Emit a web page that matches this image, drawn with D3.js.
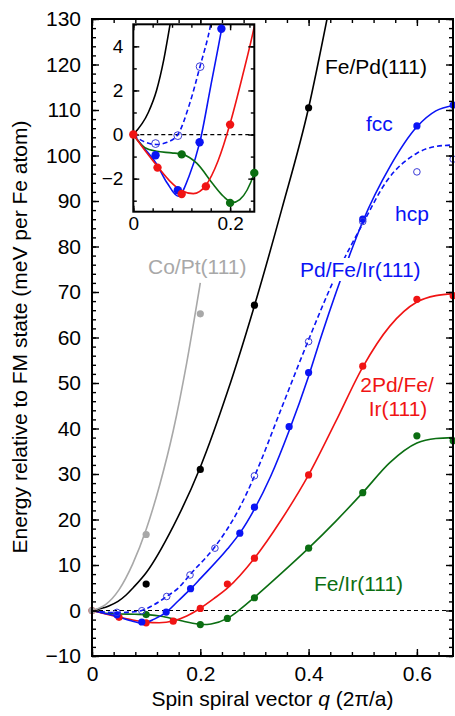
<!DOCTYPE html>
<html lang="en">
<head>
<meta charset="utf-8">
<title>Spin spiral energies</title>
<script src="https://d3js.org/d3.v7.min.js"></script>
<style>
  body { margin: 0; background: #fff; }
  svg text { font-family: "Liberation Sans", Arial, Helvetica, sans-serif; }
</style>
</head>
<body>
<div id="mainDiv"></div>
<script>
const width = 455
const height = 716

// fitted curves, [q, E]
const coPtCurve = [[0,0],[0.025,1.3],[0.05,4.6],[0.075,10.2],[0.1,17.8],[0.125,27.6],[0.15,39.5],[0.175,54.5],[0.2,72]]
const fePdCurve = [[0,0],[0.031,1],[0.048,2],[0.063,3.4],[0.076,5],[0.1,8.3],[0.15,18.5],[0.2,31.5],[0.25,48],[0.3,67],[0.35,88],[0.4,110.5],[0.434,130]]
const fccCurve = [[0,0],[0.02,-0.55],[0.047,-1.3],[0.07,-2.2],[0.093,-2.8],[0.115,-1.9],[0.138,-0.3],[0.16,2.2],[0.183,4.85],[0.2,7],[0.25,13.5],[0.273,17],[0.3,22.3],[0.33,29.5],[0.364,39.5],[0.4,51.5],[0.424,60.5],[0.451,70],[0.477,78.5],[0.5,85.5],[0.55,97.5],[0.6,106.3],[0.635,109.8],[0.667,111]]
const hcpCurve = [[0,0],[0.02,-0.3],[0.047,-0.45],[0.07,-0.35],[0.092,0],[0.115,1.3],[0.138,3.1],[0.16,5],[0.181,7.9],[0.227,14],[0.27,22],[0.3,29.5],[0.35,44.5],[0.4,59.5],[0.45,73.5],[0.5,85],[0.545,94.5],[0.6,100.5],[0.635,102],[0.667,102.3]]
const pd2Curve = [[0,0],[0.025,-0.75],[0.05,-1.45],[0.075,-2.1],[0.1,-2.55],[0.124,-2.68],[0.15,-2.3],[0.175,-1.2],[0.2,0.5],[0.225,2.6],[0.25,4.9],[0.3,11.5],[0.35,20],[0.4,29.8],[0.45,41.5],[0.5,53.5],[0.55,62.5],[0.6,67.8],[0.635,69.2],[0.667,69.6]]
const feIrCurve = [[0,0],[0.024,-0.6],[0.048,-0.76],[0.079,-0.83],[0.102,-0.9],[0.131,-1.3],[0.165,-2.26],[0.186,-2.8],[0.205,-3.08],[0.22,-2.95],[0.25,-1.74],[0.275,0.4],[0.3,2.9],[0.35,8.2],[0.4,13.7],[0.45,19.6],[0.5,25.9],[0.55,32.5],[0.6,36.8],[0.635,37.8],[0.667,38]]

// computed energies
const coPtPoints = [[0,0],[0.1,16.7],[0.2,65.2]]
const fePdPoints = [[0.1,5.8],[0.2,31],[0.3,67.1],[0.4,110.5]]
const fccPoints = [[0.046,-0.94],[0.092,-2.53],[0.137,-0.35],[0.182,4.8],[0.273,17],[0.3,22.7],[0.364,40.4],[0.4,52.3],[0.5,86],[0.6,106.5],[0.667,111.1]]
const hcpPoints = [[0.046,-0.41],[0.092,-0.05],[0.138,3.08],[0.181,7.8],[0.227,13.7],[0.3,29.6],[0.4,59.1],[0.5,85.5],[0.6,96.4],[0.667,99.2]]
const pd2Points = [[0,0],[0.05,-1.5],[0.1,-2.7],[0.15,-2.35],[0.2,0.45],[0.25,5.8],[0.3,11.5],[0.4,29.8],[0.5,53.7],[0.6,68.4],[0.667,69.2]]
const feIrPoints = [[0.1,-0.9],[0.2,-3.1],[0.25,-1.74],[0.3,2.8],[0.4,13.7],[0.5,25.9],[0.6,38.4],[0.667,37.3]]

const xTicksMain = [0, 0.2, 0.4, 0.6]
const yTicksMain = [-10, 0, 10, 20, 30, 40, 50, 60, 70, 80, 90, 100, 110, 120, 130]
const xTicksInset = [0, 0.2]
const yTicksInset = [-2, 0, 2, 4]

const blue = '#0a14f5', red = '#f01414', green = '#0b6e12', gray = '#a8a8a8'

const series = {
  feIr: { curve: feIrCurve, points: feIrPoints, color: green },
  pd2: { curve: pd2Curve, points: pd2Points, color: red },
  fcc: { curve: fccCurve, points: fccPoints, color: blue },
  hcp: { curve: hcpCurve, points: hcpPoints, color: blue, dashed: true, hollow: true },
  fePd: { curve: fePdCurve, points: fePdPoints, color: '#000' },
  coPt: { curve: coPtCurve, points: coPtPoints, color: gray }
}

const svg = d3.select('#mainDiv').append('svg')
  .attr('width', width)
  .attr('height', height)

const defs = svg.append('defs')

function addClip(id, x0, y0, x1, y1) {
  defs.append('clipPath').attr('id', id)
    .append('rect').attr('x', x0).attr('y', y0).attr('width', x1 - x0).attr('height', y1 - y0)
}

// ticks pointing inward on all four sides
function frameTicks(g, xs, ys, o) {
  const [x0, x1] = xs.range()
  const [y0, y1] = ys.range() // y0 bottom
  const noDomain = sel => sel.select('.domain').remove()
  g.append('g').attr('transform', `translate(0,${y0})`)
    .call(d3.axisBottom(xs).tickValues(o.xMinor).tickSize(-o.minor).tickFormat('')).call(noDomain)
  g.append('g').attr('transform', `translate(0,${y1})`)
    .call(d3.axisTop(xs).tickValues(o.xMinor).tickSize(-o.minor).tickFormat('')).call(noDomain)
  g.append('g').attr('transform', `translate(${x0},0)`)
    .call(d3.axisLeft(ys).tickValues(o.yMinor).tickSize(-o.minor).tickFormat('')).call(noDomain)
  g.append('g').attr('transform', `translate(${x1},0)`)
    .call(d3.axisRight(ys).tickValues(o.yMinor).tickSize(-o.minor).tickFormat('')).call(noDomain)

  g.append('g').attr('transform', `translate(0,${y0})`)
    .call(d3.axisBottom(xs).tickValues(o.xMajor).tickSize(-o.major).tickPadding(o.padX).tickFormat(d3.format('')))
    .call(noDomain)
  g.append('g').attr('transform', `translate(0,${y1})`)
    .call(d3.axisTop(xs).tickValues(o.xMajor).tickSize(-o.major).tickFormat('')).call(noDomain)
  g.append('g').attr('transform', `translate(${x0},0)`)
    .call(d3.axisLeft(ys).tickValues(o.yMajor).tickSize(-o.major).tickPadding(o.padY).tickFormat(d3.format('d')))
    .call(noDomain)
  g.append('g').attr('transform', `translate(${x1},0)`)
    .call(d3.axisRight(ys).tickValues(o.yMajor).tickSize(-o.major).tickFormat('')).call(noDomain)

  g.selectAll('.tick line').attr('stroke', '#000').attr('stroke-width', 1.4)
  g.selectAll('.tick text').attr('fill', '#000').style('font-size', o.font + 'px')
    .style('font-family', '"Liberation Sans", Arial, sans-serif')

  g.append('rect')
    .attr('x', x0).attr('y', y1).attr('width', x1 - x0).attr('height', y0 - y1)
    .attr('fill', 'none').attr('stroke', '#000').attr('stroke-width', 2)
}

function drawSeries(g, xs, ys, keys, clipId) {
  const line = d3.line().x(d => xs(d[0])).y(d => ys(d[1])).curve(d3.curveMonotoneX)
  const zero = ys(0)
  g.append('line')
    .attr('x1', xs.range()[0]).attr('x2', xs.range()[1])
    .attr('y1', zero).attr('y2', zero)
    .attr('stroke', '#000').attr('stroke-width', 1.2).attr('stroke-dasharray', '4,3')
  const curves = g.append('g').attr('clip-path', `url(#${clipId})`)
  keys.forEach(k => {
    const s = series[k]
    curves.append('path')
      .attr('d', line(s.curve))
      .attr('fill', 'none')
      .attr('stroke', s.color)
      .attr('stroke-width', 1.6)
      .attr('stroke-dasharray', s.dashed ? '5,3' : null)
  })
}

// only the points that fall inside the panel's domain are drawn
function drawPoints(g, xs, ys, keys, r) {
  const [qa, qb] = xs.domain()
  const [ea, eb] = ys.domain()
  keys.forEach(k => {
    const s = series[k]
    const pts = s.points.filter(d => d[0] >= qa && d[0] <= qb + 0.005 && d[1] >= ea - 0.5 && d[1] <= eb + 0.5)
    g.append('g').selectAll('circle')
      .data(pts)
      .enter()
      .append('circle')
      .attr('cx', d => xs(d[0]))
      .attr('cy', d => ys(d[1]))
      .attr('r', s.hollow ? r - 0.3 : r)
      .attr('fill', s.hollow ? 'none' : s.color)
      .attr('stroke', s.hollow ? '#3a3ad8' : 'none')
      .attr('stroke-width', 1)
  })
}

// main panel
const x = d3.scaleLinear().domain([0, 2 / 3]).range([92, 453])
const y = d3.scaleLinear().domain([-10, 130]).range([656, 19])
addClip('clipMain', 92, 19, 453, 656)

const mainG = svg.append('g')
const mainKeys = ['feIr', 'pd2', 'fcc', 'hcp', 'fePd', 'coPt']
drawSeries(mainG, x, y, mainKeys, 'clipMain')

// labels on the curves
const labelG = svg.append('g').style('font-size', '21px')
const pdLabel = labelG.append('text').attr('x', 300).attr('y', 277).attr('fill', blue).text('Pd/Fe/Ir(111)')
const bb = pdLabel.node().getBBox()
labelG.insert('rect', 'text')
  .attr('x', bb.x - 2).attr('y', bb.y).attr('width', bb.width + 4).attr('height', bb.height)
  .attr('fill', '#fff')
labelG.append('text').attr('x', 325).attr('y', 74).attr('fill', '#000').text('Fe/Pd(111)')
labelG.append('text').attr('x', 366).attr('y', 131).attr('fill', blue).text('fcc')
labelG.append('text').attr('x', 395).attr('y', 221).attr('fill', blue).text('hcp')
labelG.append('text').attr('x', 397).attr('y', 392).attr('text-anchor', 'middle').attr('fill', red).text('2Pd/Fe/')
labelG.append('text').attr('x', 398).attr('y', 416).attr('text-anchor', 'middle').attr('fill', red).text('Ir(111)')
labelG.append('text').attr('x', 314).attr('y', 591).attr('fill', green).text('Fe/Ir(111)')
labelG.append('text').attr('x', 148).attr('y', 274).attr('fill', gray).text('Co/Pt(111)')

drawPoints(svg.append('g'), x, y, mainKeys, 3.6)

frameTicks(svg.append('g'), x, y, {
  xMajor: xTicksMain,
  xMinor: d3.range(0, 17).map(i => i * 0.04),
  yMajor: yTicksMain,
  yMinor: d3.range(-10, 131, 2),
  major: 7, minor: 4, padX: 10, padY: 11, font: 21
})

// axis titles
svg.append('text')
  .attr('transform', 'translate(27,337) rotate(-90)')
  .attr('text-anchor', 'middle')
  .style('font-size', '21px')
  .text('Energy relative to FM state (meV per Fe atom)')

const xTitle = svg.append('text')
  .attr('x', 272.5).attr('y', 706)
  .attr('text-anchor', 'middle')
  .style('font-size', '21px')
xTitle.append('tspan').text('Spin spiral vector ')
xTitle.append('tspan').style('font-style', 'italic').text('q')
xTitle.append('tspan').text(' (2π/a)')

// inset
const xi = d3.scaleLinear().domain([0, 0.25]).range([133.3, 254.3])
const yi = d3.scaleLinear().domain([-3.5, 5]).range([211.7, 24.3])
addClip('clipInset', 133.3, 24.3, 254.3, 211.7)

const insetG = svg.append('g')
insetG.append('rect')
  .attr('x', 133.3).attr('y', 24.3).attr('width', 121).attr('height', 187.4)
  .attr('fill', '#fff')
const insetKeys = ['fePd', 'hcp', 'fcc', 'feIr', 'pd2']
drawSeries(insetG, xi, yi, insetKeys, 'clipInset')
frameTicks(insetG.append('g'), xi, yi, {
  xMajor: xTicksInset,
  xMinor: d3.range(0, 7).map(i => i * 0.04),
  yMajor: yTicksInset,
  yMinor: d3.range(-3, 6, 1),
  major: 6, minor: 3.5, padX: 5, padY: 10, font: 19
})
drawPoints(insetG.append('g'), xi, yi, insetKeys, 4.2)
</script>
</body>
</html>
